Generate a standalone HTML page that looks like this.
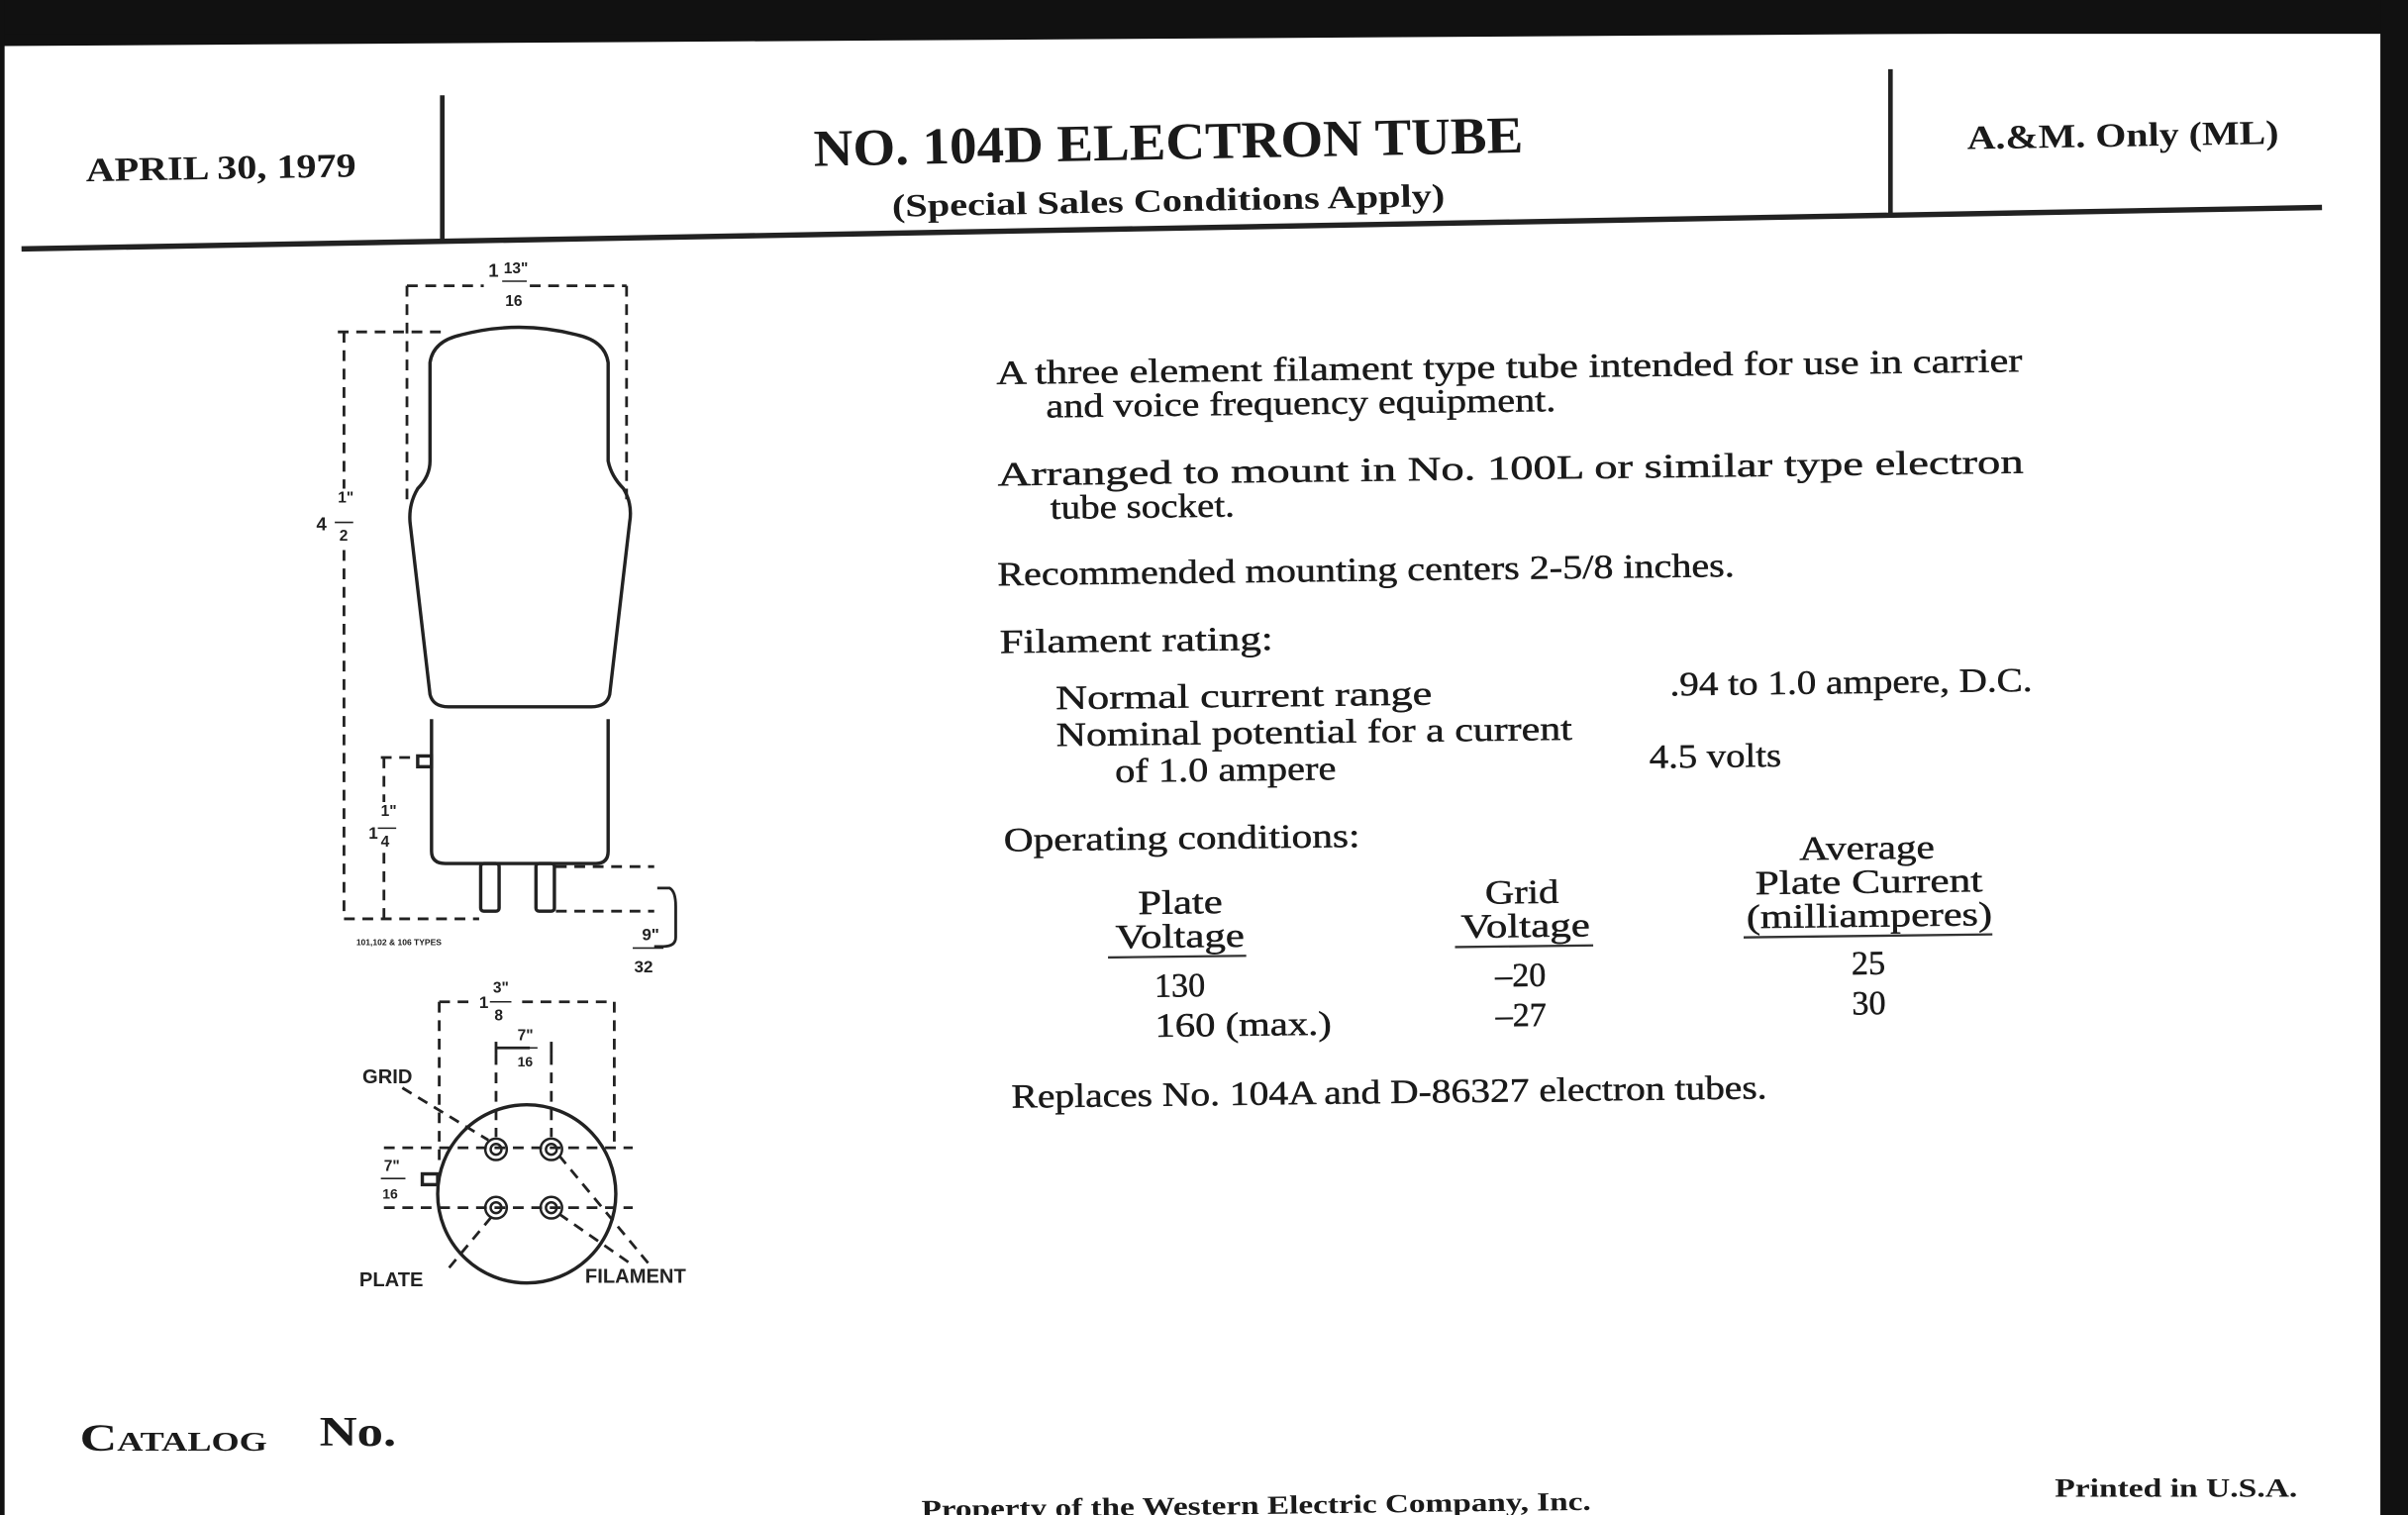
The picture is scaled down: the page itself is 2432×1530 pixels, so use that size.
<!DOCTYPE html>
<html><head><meta charset="utf-8"><style>
html,body{margin:0;padding:0;background:#fff;}
svg{display:block;}
text{font-family:"Liberation Serif",serif;fill:#1a1a1a;}
text.sn{font-family:"Liberation Sans",sans-serif;font-weight:bold;fill:#222;}
.b{font-weight:bold;}
</style></head><body>
<svg width="2432" height="1530" viewBox="0 0 1568 986" preserveAspectRatio="none" xmlns="http://www.w3.org/2000/svg">
<rect width="1568" height="986" fill="#fff"/>
<polygon points="0,0 1568,0 1568,20 0,30" fill="#111"/>
<rect x="0" y="0" width="1568" height="22" fill="#111"/>
<rect x="1550" y="0" width="18" height="986" fill="#111"/>
<rect x="0" y="0" width="3" height="986" fill="#111"/>
<!-- header -->
<line x1="14" y1="162" x2="1512" y2="135" stroke="#222" stroke-width="3.5"/>
<line x1="288" y1="62" x2="288" y2="157" stroke="#222" stroke-width="3"/>
<line x1="1231" y1="45" x2="1231" y2="139" stroke="#222" stroke-width="3"/>
<g fill="#1a1a1a">
<text class="b" x="56" y="118" font-size="22" lengthAdjust="spacingAndGlyphs" textLength="176" transform="rotate(-1 56 118)">APRIL 30, 1979</text>
<text class="b" x="530" y="108" font-size="34" lengthAdjust="spacingAndGlyphs" textLength="462" transform="rotate(-1.1 530 108)">NO. 104D ELECTRON TUBE</text>
<text class="b" x="581" y="141" font-size="21" lengthAdjust="spacingAndGlyphs" textLength="360" transform="rotate(-1.1 581 141)">(Special Sales Conditions Apply)</text>
<text class="b" x="1281" y="97" font-size="22" lengthAdjust="spacingAndGlyphs" textLength="203" transform="rotate(-1 1281 97)">A.&amp;M. Only (ML)</text>
</g>
<!-- body text -->
<g font-size="22" stroke="#1a1a1a" stroke-width="0.3" transform="rotate(-0.7 650 500)">
<text x="652" y="250" lengthAdjust="spacingAndGlyphs" textLength="668">A three element filament type tube intended for use in carrier</text>
<text x="684" y="272" lengthAdjust="spacingAndGlyphs" textLength="332">and voice frequency equipment.</text>
<text x="652" y="316" lengthAdjust="spacingAndGlyphs" textLength="668">Arranged  to  mount  in  No.  100L  or  similar  type  electron</text>
<text x="686" y="338" lengthAdjust="spacingAndGlyphs" textLength="120">tube socket.</text>
<text x="651" y="381" lengthAdjust="spacingAndGlyphs" textLength="480">Recommended mounting centers 2-5/8 inches.</text>
<text x="652" y="425" lengthAdjust="spacingAndGlyphs" textLength="178">Filament rating:</text>
<text x="688" y="462" lengthAdjust="spacingAndGlyphs" textLength="245">Normal current range</text>
<text x="1088" y="458" lengthAdjust="spacingAndGlyphs" textLength="236">.94 to 1.0 ampere, D.C.</text>
<text x="688" y="486" lengthAdjust="spacingAndGlyphs" textLength="336">Nominal potential for a current</text>
<text x="726" y="510" lengthAdjust="spacingAndGlyphs" textLength="144">of 1.0 ampere</text>
<text x="1074" y="505" lengthAdjust="spacingAndGlyphs" textLength="86">4.5 volts</text>
<text x="653" y="554" lengthAdjust="spacingAndGlyphs" textLength="232">Operating conditions:</text>
<text x="740" y="596" lengthAdjust="spacingAndGlyphs" textLength="55">Plate</text>
<text x="725" y="618" lengthAdjust="spacingAndGlyphs" textLength="84">Voltage</text>
<text x="966" y="592" lengthAdjust="spacingAndGlyphs" textLength="48">Grid</text>
<text x="950" y="614" lengthAdjust="spacingAndGlyphs" textLength="84">Voltage</text>
<text x="1171" y="566" lengthAdjust="spacingAndGlyphs" textLength="88">Average</text>
<text x="1142" y="588" lengthAdjust="spacingAndGlyphs" textLength="148">Plate Current</text>
<text x="1136" y="610" lengthAdjust="spacingAndGlyphs" textLength="160">(milliamperes)</text>
<line x1="720" y1="624" x2="810" y2="624" stroke="#333" stroke-width="1.5"/>
<line x1="946" y1="620" x2="1036" y2="620" stroke="#333" stroke-width="1.5"/>
<line x1="1134" y1="616" x2="1296" y2="616" stroke="#333" stroke-width="1.5"/>
<text x="750" y="650">130</text>
<text x="750" y="676" lengthAdjust="spacingAndGlyphs" textLength="115">160 (max.)</text>
<text x="972" y="646">–20</text>
<text x="972" y="672">–27</text>
<text x="1204" y="641">25</text>
<text x="1204" y="667">30</text>
<text x="656" y="721" lengthAdjust="spacingAndGlyphs" textLength="492">Replaces No. 104A and D-86327 electron tubes.</text>
</g>
<!-- footer -->
<text x="52" y="944" font-size="25" class="b" font-variant="small-caps" lengthAdjust="spacingAndGlyphs" textLength="122">Catalog</text>
<text x="208" y="941" font-size="27" class="b" lengthAdjust="spacingAndGlyphs" textLength="50">No.</text>
<text x="600" y="988" font-size="17" class="b" lengthAdjust="spacingAndGlyphs" textLength="436" transform="rotate(-0.7 600 988)">Property of the Western Electric Company, Inc.</text>
<text x="1338" y="974" font-size="17" class="b" lengthAdjust="spacingAndGlyphs" textLength="158">Printed in U.S.A.</text>
<!-- tube drawing -->
<g fill="none" stroke="#222" stroke-width="2.2">
<path d="M280,300 L280,236 Q282,222 300,218 Q338,208 376,218 Q394,222 396,236 L396,300 Q398,310 406,318 Q412,328 410,340 L397,452 Q395,460 385,460 L292,460 Q282,460 280,452 L267,340 Q266,328 272,318 Q280,310 280,300 Z"/>
<path d="M281,468 L281,554 Q281,562 290,562 L388,562 Q396,562 396,554 L396,468"/>
<rect x="313" y="562" width="12" height="31" rx="2"/>
<rect x="349" y="562" width="12" height="31" rx="2"/>
<rect x="272" y="492" width="9" height="7"/>
<circle cx="343" cy="777" r="58"/>
<rect x="275" y="764" width="10" height="7"/>
</g>
<g stroke="#222" stroke-width="1.6" fill="none">
<circle cx="323" cy="748" r="7"/><circle cx="323" cy="748" r="3.5"/>
<circle cx="359" cy="748" r="7"/><circle cx="359" cy="748" r="3.5"/>
<circle cx="323" cy="786" r="7"/><circle cx="323" cy="786" r="3.5"/>
<circle cx="359" cy="786" r="7"/><circle cx="359" cy="786" r="3.5"/>
</g>
<g stroke="#222" stroke-width="1.8" fill="none" stroke-dasharray="7,5">
<line x1="265" y1="186" x2="315" y2="186"/><line x1="345" y1="186" x2="408" y2="186"/>
<line x1="265" y1="186" x2="265" y2="330"/><line x1="408" y1="186" x2="408" y2="330"/>
<line x1="220" y1="216" x2="290" y2="216"/>
<line x1="224" y1="216" x2="224" y2="318"/><line x1="224" y1="358" x2="224" y2="598"/>
<line x1="224" y1="598" x2="312" y2="598"/>
<line x1="248" y1="493" x2="272" y2="493"/>
<line x1="250" y1="493" x2="250" y2="522"/><line x1="250" y1="555" x2="250" y2="598"/>
<line x1="362" y1="564" x2="426" y2="564"/><line x1="362" y1="593" x2="426" y2="593"/>
<line x1="286" y1="652" x2="310" y2="652"/><line x1="340" y1="652" x2="400" y2="652"/>
<line x1="286" y1="652" x2="286" y2="760"/><line x1="400" y1="652" x2="400" y2="745"/>
<line x1="323" y1="686" x2="323" y2="740"/><line x1="359" y1="686" x2="359" y2="740"/>
<line x1="250" y1="747" x2="412" y2="747"/><line x1="250" y1="786" x2="412" y2="786"/>
<line x1="262" y1="708" x2="318" y2="742"/>
<line x1="364" y1="752" x2="422" y2="822"/><line x1="364" y1="790" x2="410" y2="822"/>
<line x1="320" y1="792" x2="290" y2="828"/>
</g>
<g stroke="#222" stroke-width="1.8" fill="none">
<line x1="323" y1="682" x2="345" y2="682"/><line x1="323" y1="678" x2="323" y2="686"/><line x1="359" y1="678" x2="359" y2="686"/>
<path d="M428,578 L436,578 Q440,580 440,590 L440,610 Q440,616 432,616 L426,616"/>
</g>
<g>
<text class="sn" x="318" y="180" font-size="12">1</text>
<text class="sn" x="328" y="178" font-size="10">13"</text><line x1="327" y1="183" x2="343" y2="183" stroke="#222"/>
<text class="sn" x="329" y="199" font-size="10">16</text>
<text class="sn" x="206" y="345" font-size="12">4</text>
<text class="sn" x="220" y="327" font-size="10">1"</text><line x1="218" y1="340" x2="230" y2="340" stroke="#222"/>
<text class="sn" x="221" y="352" font-size="10">2</text>
<text class="sn" x="240" y="546" font-size="11">1</text>
<text class="sn" x="248" y="531" font-size="10">1"</text><line x1="246" y1="539" x2="258" y2="539" stroke="#222"/>
<text class="sn" x="248" y="551" font-size="10">4</text>
<text class="sn" x="232" y="615" font-size="5.5">101,102 &amp; 106 TYPES</text>
<text class="sn" x="418" y="612" font-size="11">9"</text><line x1="412" y1="617" x2="432" y2="617" stroke="#222"/>
<text class="sn" x="413" y="633" font-size="11">32</text>
<text class="sn" x="312" y="656" font-size="11">1</text>
<text class="sn" x="321" y="646" font-size="10">3"</text><line x1="319" y1="652" x2="333" y2="652" stroke="#222"/>
<text class="sn" x="322" y="664" font-size="10">8</text>
<text class="sn" x="337" y="677" font-size="10">7"</text><line x1="334" y1="682" x2="350" y2="682" stroke="#222"/>
<text class="sn" x="337" y="694" font-size="9">16</text>
<text class="sn" x="250" y="762" font-size="10">7"</text><line x1="248" y1="767" x2="264" y2="767" stroke="#222"/>
<text class="sn" x="249" y="780" font-size="9">16</text>
<text class="sn" x="236" y="705" font-size="13">GRID</text>
<text class="sn" x="234" y="837" font-size="13">PLATE</text>
<text class="sn" x="381" y="835" font-size="13">FILAMENT</text>
</g>
</svg>
</body></html>
